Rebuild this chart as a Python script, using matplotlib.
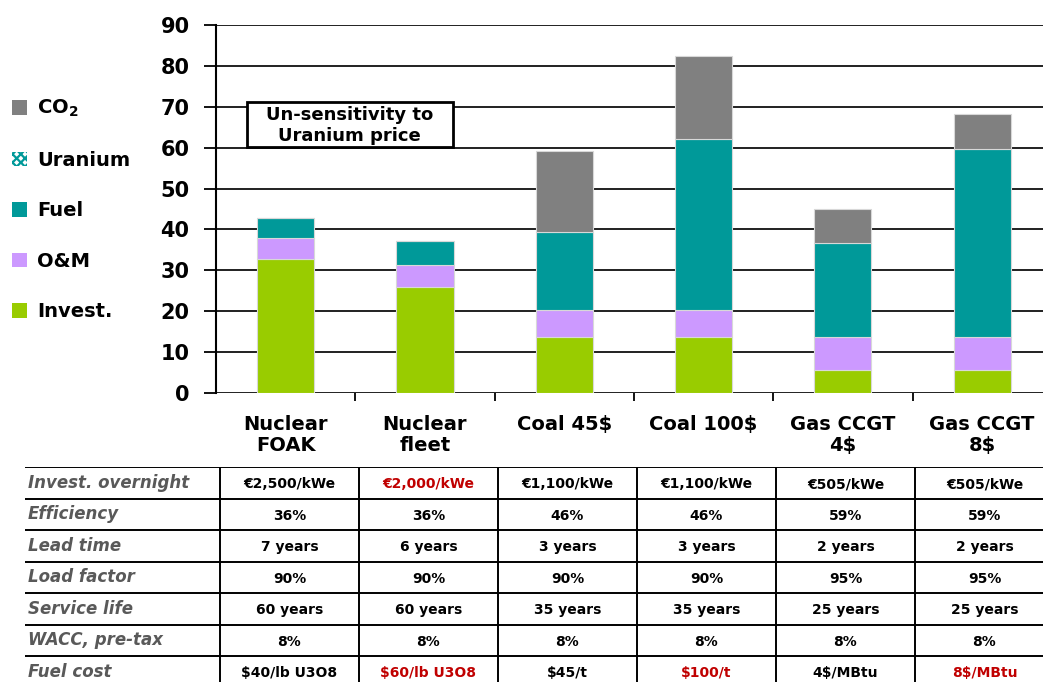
import numpy as np
import matplotlib.pyplot as plt
from matplotlib.patches import Patch, Rectangle

plt.rcParams['font.family'] = ['DejaVu Sans']
plt.rcParams['font.weight'] = 'bold'
plt.rcParams['mathtext.fontset'] = 'dejavusans'
plt.rcParams['hatch.linewidth'] = 1.6

# generation cost components, EUR/MWh
categories = ["Nuclear\nFOAK", "Nuclear\nfleet", "Coal 45$", "Coal 100$", "Gas CCGT\n4$", "Gas CCGT\n8$"]
invest = [32.7, 25.9, 13.8, 13.8, 5.7, 5.7]
om = [5.1, 5.4, 6.6, 6.6, 8.1, 8.1]
fuel = [5.1, 5.8, 18.9, 41.7, 23.0, 45.9]
uranium = [0, 0, 0, 0, 0, 0]
co2 = [0, 0, 20.0, 20.4, 8.2, 8.5]
yticks = [0, 10, 20, 30, 40, 50, 60, 70, 80, 90]

# assumptions table
row_labels = ["Invest. overnight", "Efficiency", "Lead time", "Load factor",
              "Service life", "WACC, pre-tax", "Fuel cost"]
cells = [
    ["€2,500/kWe", "€2,000/kWe", "€1,100/kWe", "€1,100/kWe", "€505/kWe", "€505/kWe"],
    ["36%", "36%", "46%", "46%", "59%", "59%"],
    ["7 years", "6 years", "3 years", "3 years", "2 years", "2 years"],
    ["90%", "90%", "90%", "90%", "95%", "95%"],
    ["60 years", "60 years", "35 years", "35 years", "25 years", "25 years"],
    ["8%", "8%", "8%", "8%", "8%", "8%"],
    ["$40/lb U3O8", "$60/lb U3O8", "$45/t", "$100/t", "4$/MBtu", "8$/MBtu"],
]
# cells that changed vs. the reference case
highlight = [(0, 1), (6, 1), (6, 3), (6, 5)]

W, H = 1043, 682
fig = plt.figure(figsize=(W / 100, H / 100), dpi=100)
ax = fig.add_axes([216 / W, 1 - 393 / H, 1 - 216 / W, (393 - 25) / H])

x = np.arange(len(categories))
bw = 0.41
edge = dict(edgecolor='#d8d8d8', linewidth=0.8, zorder=3)
ax.bar(x, invest, bw, color='#99CC00', **edge)
bottom = np.array(invest)
ax.bar(x, om, bw, bottom=bottom, color='#CC99FF', **edge)
bottom = bottom + om
ax.bar(x, fuel, bw, bottom=bottom, color='#009999', **edge)
bottom = bottom + fuel
ax.bar(x, uranium, bw, bottom=bottom, color='white', hatch='xxxx',
       edgecolor='#009999', linewidth=0, zorder=3)
bottom = bottom + uranium
ax.bar(x, co2, bw, bottom=bottom, color='#808080', **edge)

ax.set_ylim(0, 90)
ax.set_xlim(-0.5, -0.5 + (W - 216) / 139.3)
ax.set_yticks(yticks)
ax.set_yticklabels([str(v) for v in yticks], fontsize=15, fontweight='bold')
ax.tick_params(axis='y', length=9, width=1.3, pad=10)
ax.yaxis.grid(True, color='#202020', linewidth=1.4, zorder=0)
ax.set_axisbelow(True)

ax.set_xticks(x)
ax.set_xticklabels(categories, fontsize=14, fontweight='bold', linespacing=1.12)
ax.set_xticks(x[:-1] + 0.5, minor=True)
ax.tick_params(axis='x', which='major', length=0, pad=16)
ax.tick_params(axis='x', which='minor', length=6, width=1.3)
for s in ['top', 'right', 'bottom']:
    ax.spines[s].set_visible(False)
ax.spines['left'].set_linewidth(1.5)

# callout box
ax.add_patch(Rectangle((-0.277, 60.2), 1.477, 11.0, facecolor='white',
                       edgecolor='black', linewidth=2, zorder=4))
ax.text(0.46, 65.4, "Un-sensitivity to\nUranium price", fontsize=13, fontweight='bold',
        ha='center', va='center', linespacing=1.2, zorder=5)

handles = [Patch(facecolor='#808080', label="CO$_\\mathbf{2}$"),
           Patch(facecolor='white', edgecolor='#009999', hatch='xxxx', linewidth=0, label="Uranium"),
           Patch(facecolor='#009999', label="Fuel"),
           Patch(facecolor='#CC99FF', label="O&M"),
           Patch(facecolor='#99CC00', label="Invest.")]
fig.legend(handles=handles, loc='upper left', bbox_to_anchor=(12 / W, 1 - 98 / H),
           frameon=False, prop=dict(size=14, weight='bold'), handlelength=0.78,
           handleheight=0.78, handletextpad=0.5, labelspacing=1.62,
           borderpad=0, borderaxespad=0)

# assumptions table below the chart
label_w, col_w, row_h = 195, 139, 31.5
tx = fig.add_axes([25 / W, 0, 1 - 25 / W, (H - 467) / H])
tx.set_xlim(0, W - 25)
tx.set_ylim((H - 467) / row_h, 0)
tx.axis('off')
n_rows, n_cols = len(row_labels), len(categories)
for r in range(n_rows + 1):
    tx.axhline(r, color='black', linewidth=1.4)
for c in range(n_cols):
    tx.axvline(label_w + c * col_w, color='black', linewidth=1.4)
for r, lab in enumerate(row_labels):
    tx.text(3, r + 0.5, lab, fontsize=12, fontweight='bold', fontstyle='italic',
            color='#595959', ha='left', va='center')
    for c in range(n_cols):
        col = '#C00000' if (r, c) in highlight else 'black'
        tx.text(label_w + (c + 0.5) * col_w, r + 0.55, cells[r][c], fontsize=10,
                fontweight='bold', color=col, ha='center', va='center')

fig.savefig("out.png", dpi=100)
